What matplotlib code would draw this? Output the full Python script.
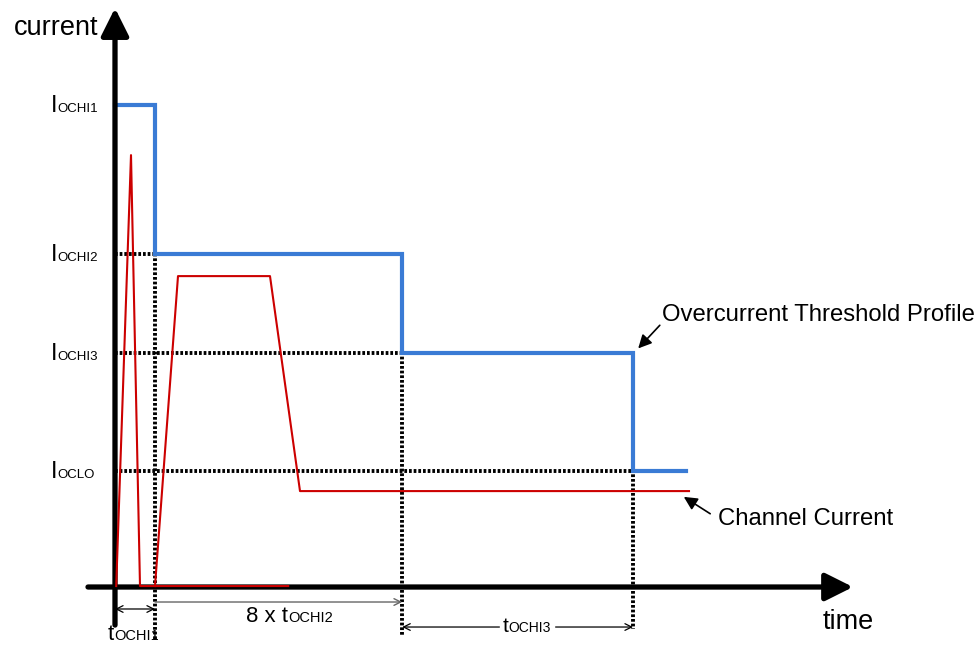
import matplotlib.pyplot as plt
from matplotlib.transforms import offset_copy

plt.rcParams['font.family'] = ['Liberation Sans', 'DejaVu Sans']

# threshold levels (arbitrary current units) and time marks (units of tOCHI1)
level_names = ["OCHI1", "OCHI2", "OCHI3", "OCLO"]
level_values = [10.0, 6.91, 4.855, 2.41]
t_ochi1 = 1.0
t_ochi2_end = 7.18
t_ochi3_end = 12.95

# overcurrent threshold profile (step)
thr_time = [0, 1.0, 1.0, 7.18, 7.18, 12.95, 12.95, 14.28]
thr_current = [10.0, 10.0, 6.91, 6.91, 4.855, 4.855, 2.41, 2.41]

# channel current
spike_time = [0.03, 0.4, 0.625, 4.33]
spike_current = [0.02, 8.96, 0.02, 0.02]
ch_time = [1.0, 1.575, 3.875, 4.625, 14.35]
ch_current = [0.02, 6.45, 6.45, 1.99, 1.99]

fig = plt.figure(figsize=(9.77, 6.45), dpi=100)
ax = fig.add_axes([0, 0, 1, 1])
ax.set_xlim(-2.875, 21.55)
ax.set_ylim(-1.203, 12.178)
ax.axis("off")

dot = dict(color="black", lw=2.8, linestyle=(0, (0.7, 0.5)), dash_capstyle="butt", zorder=2)

# dotted guide lines
ax.plot([0, t_ochi1], [level_values[1]] * 2, **dot)
ax.plot([0, t_ochi2_end], [level_values[2]] * 2, **dot)
ax.plot([0, t_ochi3_end], [level_values[3]] * 2, **dot)
ax.plot([t_ochi1] * 2, [8.75, -1.1], **dot)
ax.plot([t_ochi2_end] * 2, [level_values[1], -1.0], **dot)
ax.plot([t_ochi3_end] * 2, [level_values[2], -0.88], **dot)

# axes with arrows
ax.annotate("", xy=(0, 12.01), xytext=(0, -0.79),
            arrowprops=dict(arrowstyle="-|>", lw=3.8, color="black", mutation_scale=42,
                            shrinkA=0, shrinkB=0, capstyle="round"), zorder=4)
ax.annotate("", xy=(18.45, 0), xytext=(-0.675, 0),
            arrowprops=dict(arrowstyle="-|>", lw=3.8, color="black", mutation_scale=42,
                            shrinkA=0, shrinkB=0, capstyle="round"), zorder=4)

# curves
ax.plot(thr_time, thr_current, color="#3A7BD5", lw=3, solid_joinstyle="miter", zorder=3)
ax.plot(spike_time, spike_current, color="#CC0000", lw=1.5, zorder=5)
ax.plot(ch_time, ch_current, color="#CC0000", lw=1.5, zorder=5)

# axis titles
ax.text(-0.42, 11.6, "current", fontsize=19.5, ha="right", va="center")
ax.text(17.7, -0.73, "time", fontsize=19.5, ha="left", va="center")

# level labels: big I + small letters on same baseline
for name, val in zip(level_names, level_values):
    tr = offset_copy(ax.transData, fig=fig, x=0, y=-5, units="points")
    ax.text(-1.6, val, "I", fontsize=17, ha="left", va="baseline", transform=tr)
    tr2 = offset_copy(ax.transData, fig=fig, x=4.6, y=-5, units="points")
    ax.text(-1.6, val, name, fontsize=9.5, ha="left", va="baseline", transform=tr2)


def t_label(x, y, sub, prefix="t", size=16, subsize=10.5):
    txt = ax.text(x, y, prefix, fontsize=size, ha="left", va="baseline")
    fig.canvas.draw()
    bb = txt.get_window_extent()
    w = bb.width * 72 / fig.dpi
    tr = offset_copy(ax.transData, fig=fig, x=w, y=0, units="points")
    ax.text(x, y, sub, fontsize=subsize, ha="left", va="baseline", transform=tr)


# dimension arrows
ax.annotate("", xy=(0, -0.456), xytext=(t_ochi1, -0.456),
            arrowprops=dict(arrowstyle="<->", lw=0.9, color="black", shrinkA=0, shrinkB=0,
                            mutation_scale=12))
ax.annotate("", xy=(t_ochi1, -0.311), xytext=(t_ochi2_end, -0.311),
            arrowprops=dict(arrowstyle="<-", lw=1.0, color="#666666", shrinkA=0, shrinkB=0,
                            mutation_scale=12))
ax.annotate("", xy=(t_ochi2_end, -0.83), xytext=(t_ochi3_end, -0.83),
            arrowprops=dict(arrowstyle="<->", lw=0.9, color="black", shrinkA=0, shrinkB=0,
                            mutation_scale=12))

t_label(-0.18, -1.095, "OCHI1")
t_label(3.28, -0.73, "OCHI2", prefix="8 x t")
ax.add_patch(plt.Rectangle((9.62, -1.05), 1.35, 0.45, color="white", zorder=3))
t_label(9.7, -0.94, "OCHI3", size=15, subsize=10)

# callouts
ax.text(13.675, 5.64, "Overcurrent Threshold Profile", fontsize=17.2, ha="left", va="center")
ax.annotate("", xy=(13.08, 4.95), xytext=(13.62, 5.43),
            arrowprops=dict(arrowstyle="-|>", lw=1.2, color="black", mutation_scale=20,
                            shrinkA=0, shrinkB=0))
ax.text(15.08, 1.41, "Channel Current", fontsize=17.2, ha="left", va="center")
ax.annotate("", xy=(14.22, 1.87), xytext=(14.88, 1.52),
            arrowprops=dict(arrowstyle="-|>", lw=1.2, color="black", mutation_scale=20,
                            shrinkA=0, shrinkB=0))

fig.savefig("out.png", dpi=100)
